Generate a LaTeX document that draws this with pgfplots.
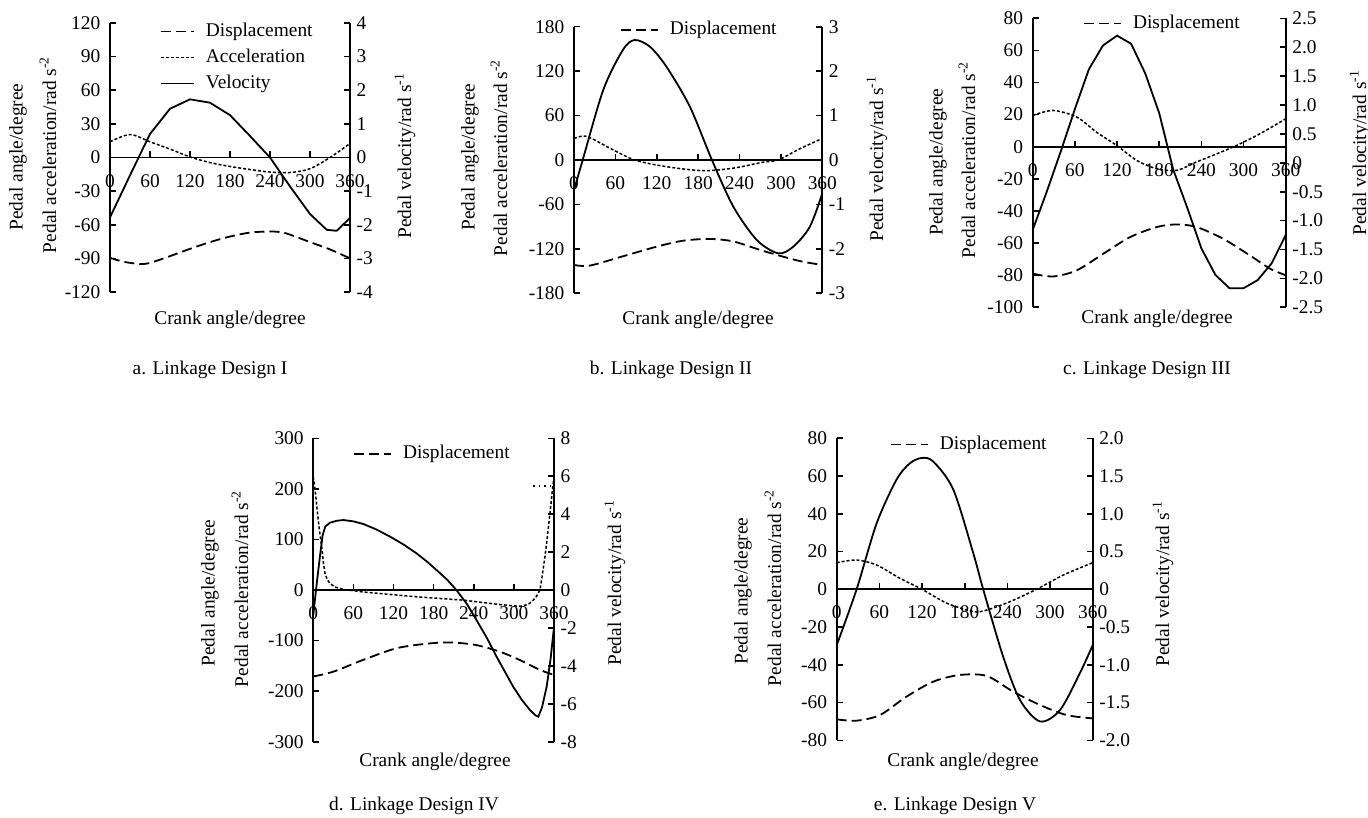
\documentclass[border=0pt]{standalone}
\usepackage{fontspec}
\setmainfont{Liberation Serif}
\usepackage{pgfplots}
\pgfplotsset{compat=1.18}
\newcommand{\fs}{\fontsize{19.4pt}{23pt}\selectfont}

\pgfplotsset{
  base/.style={scale only axis, xmin=0, xmax=360, anchor=south west, clip=false,
    axis line style={line width=1.8pt, black, -},
    tick style={line width=1.6pt, black},
    major tick length=6pt,
    every tick label/.append style={font=\fs},
  },
  leftax/.style={base, axis x line=middle, axis y line=left,
    x axis line style={-}, y axis line style={-},
    xtick={0,60,...,360}, xticklabels={0,60,120,180,240,300,360},
    hide obscured x ticks=false, hide obscured y ticks=false,
    xticklabel style={yshift=-10pt},
    yticklabel style={xshift=-3pt},
    ytick align=inside, xtick align=inside,
    legend style={draw=none, fill=none, inner sep=0pt, anchor=north west, font=\fs,
      nodes={inner sep=1pt, text height=14pt, text depth=4pt}, row sep=6pt, column sep=10pt},
    legend cell align=left,
    legend image code/.code={\draw[##1] (0pt,0pt) -- (37pt,0pt);},
  },
  rightax/.style={base, axis x line=none, axis y line=right, y axis line style={-}, ytick align=inside},
  disp/.style={black, line width=1.8pt, dash pattern=on 10pt off 5pt},
  acc/.style={black, line width=1.5pt, dash pattern=on 3pt off 2pt},
  vel/.style={black, line width=1.8pt},
}

\begin{document}
\fs
\begin{tikzpicture}
\path[use as bounding box] (0pt,0pt) rectangle (1368pt,-818pt);

% ---------------- a. Linkage Design I
\begin{axis}[leftax, at={(110pt,-292pt)}, width=240pt, height=269pt,
  ymin=-120, ymax=120, ytick={-120,-90,-60,-30,0,30,60,90,120},
  yticklabels={-120,-90,-60,-30,0,30,60,90,120},
  legend style={at={(axis description cs:0.208,1.006)}},
  legend image code/.code={\draw[#1] (0pt,0pt) -- (33pt,0pt);}]
\addplot[disp, smooth] coordinates {(0,-89.5) (20,-93) (45,-95) (60,-94) (90,-88) (120,-81.5) (150,-75.5) (180,-70.5) (210,-67) (240,-66) (260,-67) (280,-71) (300,-75.5) (330,-82) (360,-90)};
\addlegendentry{Displacement}
\addplot[acc, smooth] coordinates {(0,14) (30,20.5) (60,14) (90,7.5) (120,0.5) (150,-4.5) (180,-8) (210,-10.7) (240,-13) (270,-13.4) (300,-10) (330,0) (360,12.5)};
\addlegendentry{Acceleration}
\addlegendimage{vel}
\addlegendentry{Velocity}
\end{axis}
\begin{axis}[rightax, at={(110pt,-292pt)}, width=240pt, height=269pt,
  ymin=-4, ymax=4, ytick={-4,-3,-2,-1,0,1,2,3,4}, yticklabels={-4,-3,-2,-1,0,1,2,3,4}]
\addplot[vel] coordinates {(0,-1.78) (30,-0.53) (60,0.7) (90,1.45) (120,1.73) (150,1.63) (180,1.26) (210,0.64) (240,0) (270,-0.86) (300,-1.68) (325,-2.15) (340,-2.18) (360,-1.8)};
\end{axis}
\node[rotate=90] at (18pt,-157pt) {Pedal angle/degree};
\node[rotate=90] at (48pt,-155pt) {Pedal acceleration/rad s\textsuperscript{-2}};
\node[rotate=90] at (405pt,-156pt) {Pedal velocity/rad s\textsuperscript{-1}};
\node at (230pt,-320pt) {Crank angle/degree};
\node at (210pt,-370pt) {a. Linkage Design I};

% ---------------- b. Linkage Design II
\begin{axis}[leftax, at={(574pt,-293.3pt)}, width=248.3pt, height=266.6pt,
  ymin=-180, ymax=180, ytick={-180,-120,-60,0,60,120,180},
  yticklabels={-180,-120,-60,0,60,120,180},
  legend style={at={(axis description cs:0.185,1.027)}}]
\addplot[disp, smooth] coordinates {(0,-141.75) (23,-142.6) (71,-130) (120,-117) (158,-109) (197,-106.6) (231,-110) (270,-121.5) (303,-130.5) (330,-137) (360,-141.75)};
\addlegendentry{Displacement}
\addplot[acc, smooth] coordinates {(0,29) (18,32) (52,16) (88,0) (134,-9) (187,-14.4) (231,-11) (274,-3) (296,0) (327,15) (360,29)};
\end{axis}
\begin{axis}[rightax, at={(574pt,-293.3pt)}, width=248.3pt, height=266.6pt,
  ymin=-3, ymax=3, ytick={-3,-2,-1,0,1,2,3}, yticklabels={-3,-2,-1,0,1,2,3}]
\addplot[vel, smooth] coordinates {(0,-0.68) (12.6,0) (42.5,1.58) (71,2.48) (88,2.7) (110,2.55) (134,2.1) (168,1.2) (200,0) (231,-1.05) (265,-1.8) (296,-2.1) (318,-1.95) (342,-1.5) (360,-0.75)};
\end{axis}
\node[rotate=90] at (470pt,-157pt) {Pedal angle/degree};
\node[rotate=90] at (499pt,-158pt) {Pedal acceleration/rad s\textsuperscript{-2}};
\node[rotate=90] at (877pt,-159pt) {Pedal velocity/rad s\textsuperscript{-1}};
\node at (698pt,-320pt) {Crank angle/degree};
\node at (671pt,-370pt) {b. Linkage Design II};

% ---------------- c. Linkage Design III
\begin{axis}[leftax, at={(1032.7pt,-307.3pt)}, width=253pt, height=289pt,
  ymin=-100, ymax=80, ytick={-100,-80,-60,-40,-20,0,20,40,60,80},
  yticklabels={-100,-80,-60,-40,-20,0,20,40,60,80},
  legend style={at={(axis description cs:0.199,1.017)}}]
\addplot[disp, smooth] coordinates {(0,-79) (29,-80.8) (62.6,-77) (100.6,-66.6) (138.5,-56.3) (176.5,-50) (205,-48.4) (233,-50) (271,-57.3) (309,-67.7) (338,-76) (360,-80)};
\addlegendentry{Displacement}
\addplot[acc, smooth] coordinates {(0,19.5) (29,22.6) (62.6,18.5) (91,9) (119.5,0.8) (148,-8.5) (176.5,-13.7) (205,-14.7) (233,-9.5) (262,-4.4) (290,0.8) (323.5,8.1) (360,17.4)};
\end{axis}
\begin{axis}[rightax, at={(1032.7pt,-307.3pt)}, width=253pt, height=289pt,
  ymin=-2.5, ymax=2.5, ytick={-2.5,-2,-1.5,-1,-0.5,0,0.5,1,1.5,2,2.5},
  yticklabels={-2.5,-2.0,-1.5,-1.0,-0.5,0,0.5,1.0,1.5,2.0,2.5}]
\addplot[vel] coordinates {(0,-1.16) (20,-0.5) (40,0.2) (60,0.93) (80,1.62) (100,2.03) (120,2.2) (140,2.06) (160,1.55) (180,0.86) (200,-0.12) (220,-0.78) (240,-1.48) (260,-1.94) (280,-2.17) (300,-2.17) (320,-2.03) (340,-1.74) (360,-1.25)};
\end{axis}
\node[rotate=90] at (938pt,-162pt) {Pedal angle/degree};
\node[rotate=90] at (967pt,-160pt) {Pedal acceleration/rad s\textsuperscript{-2}};
\node[rotate=90] at (1360pt,-153pt) {Pedal velocity/rad s\textsuperscript{-1}};
\node at (1157pt,-319pt) {Crank angle/degree};
\node at (1147pt,-370pt) {c. Linkage Design III};

% ---------------- d. Linkage Design IV
\begin{axis}[leftax, at={(313.3pt,-741.7pt)}, width=240.7pt, height=303.4pt,
  ymin=-300, ymax=300, ytick={-300,-200,-100,0,100,200,300},
  yticklabels={-300,-200,-100,0,100,200,300},
  legend style={at={(axis description cs:0.165,0.983)}}]
\addplot[disp, smooth] coordinates {(0,-171) (30,-161.5) (75,-138) (125,-115) (175,-105.5) (209,-104) (244,-109) (279,-122) (309,-138.5) (339,-158) (360,-168)};
\addlegendentry{Displacement}
\addplot[acc] coordinates {(0,224) (3,195) (6,155) (9,120) (12.5,86) (15,55) (17.5,33) (21,20) (25,13) (32,6) (45,1.3) (75,-4) (150,-13) (224,-20) (274,-28) (300,-31.5) (312,-32) (322,-28) (329,-20) (334,-12) (339,0) (342,25) (346.5,66) (350,105) (354,152) (357,190) (360,224)};
\addplot[black, line width=1.4pt, dash pattern=on 1.5pt off 4pt] coordinates {(329,206) (360,206)};
\end{axis}
\begin{axis}[rightax, at={(313.3pt,-741.7pt)}, width=240.7pt, height=303.4pt,
  ymin=-8, ymax=8, ytick={-8,-6,-4,-2,0,2,4,6,8}, yticklabels={-8,-6,-4,-2,0,2,4,6,8}]
\addplot[vel] coordinates {(0,-1.3) (5,0.3) (10,1.8) (14,2.9) (18,3.35) (25,3.55) (35,3.65) (45,3.69) (60,3.62) (75,3.48) (95,3.18) (115,2.81) (135,2.4) (154.5,1.93) (170,1.5) (184.4,1.05) (200,0.55) (214,0) (230,-0.75) (244,-1.58) (260,-2.55) (274,-3.51) (288,-4.4) (299,-5.1) (312,-5.8) (324,-6.33) (332,-6.6) (336.5,-6.68) (342,-6.2) (349,-5.1) (355,-3.6) (360,-1.95)};
\end{axis}
\node[rotate=90] at (210pt,-593pt) {Pedal angle/degree};
\node[rotate=90] at (240pt,-589pt) {Pedal acceleration/rad s\textsuperscript{-2}};
\node[rotate=90] at (615pt,-583pt) {Pedal velocity/rad s\textsuperscript{-1}};
\node at (435pt,-762pt) {Crank angle/degree};
\node at (414pt,-806pt) {d. Linkage Design IV};

% ---------------- e. Linkage Design V
\begin{axis}[leftax, at={(836.7pt,-740.3pt)}, width=256pt, height=302pt,
  ymin=-80, ymax=80, ytick={-80,-60,-40,-20,0,20,40,60,80},
  yticklabels={-80,-60,-40,-20,0,20,40,60,80},
  legend style={at={(axis description cs:0.208,1.013)}}]
\addplot[disp, smooth] coordinates {(0,-68.9) (28,-69.6) (61,-66.6) (98,-56.9) (136,-48.9) (173,-45.4) (211,-45.9) (248,-54.2) (286,-61.3) (323,-66.6) (360,-68.4)};
\addlegendentry{Displacement}
\addplot[acc, smooth] coordinates {(0,14.1) (28,15.5) (56,12.9) (89,5.8) (120,0) (155,-7.4) (192,-11.8) (211,-11) (244,-6.5) (281,0) (319,7.6) (360,14.1)};
\end{axis}
\begin{axis}[rightax, at={(836.7pt,-740.3pt)}, width=256pt, height=302pt,
  ymin=-2, ymax=2, ytick={-2,-1.5,-1,-0.5,0,0.5,1,1.5,2},
  yticklabels={-2.0,-1.5,-1.0,-0.5,0,0.5,1.0,1.5,2.0}]
\addplot[vel, smooth] coordinates {(0,-0.74) (28,0) (56,0.87) (84,1.45) (103,1.67) (120,1.74) (136,1.69) (164,1.32) (192,0.48) (206,0) (234,-0.89) (258,-1.47) (286,-1.75) (314,-1.6) (342,-1.11) (360,-0.74)};
\end{axis}
\node[rotate=90] at (743pt,-591pt) {Pedal angle/degree};
\node[rotate=90] at (773pt,-588pt) {Pedal acceleration/rad s\textsuperscript{-2}};
\node[rotate=90] at (1163pt,-584pt) {Pedal velocity/rad s\textsuperscript{-1}};
\node at (963pt,-762pt) {Crank angle/degree};
\node at (955pt,-806pt) {e. Linkage Design V};
\end{tikzpicture}
\end{document}
